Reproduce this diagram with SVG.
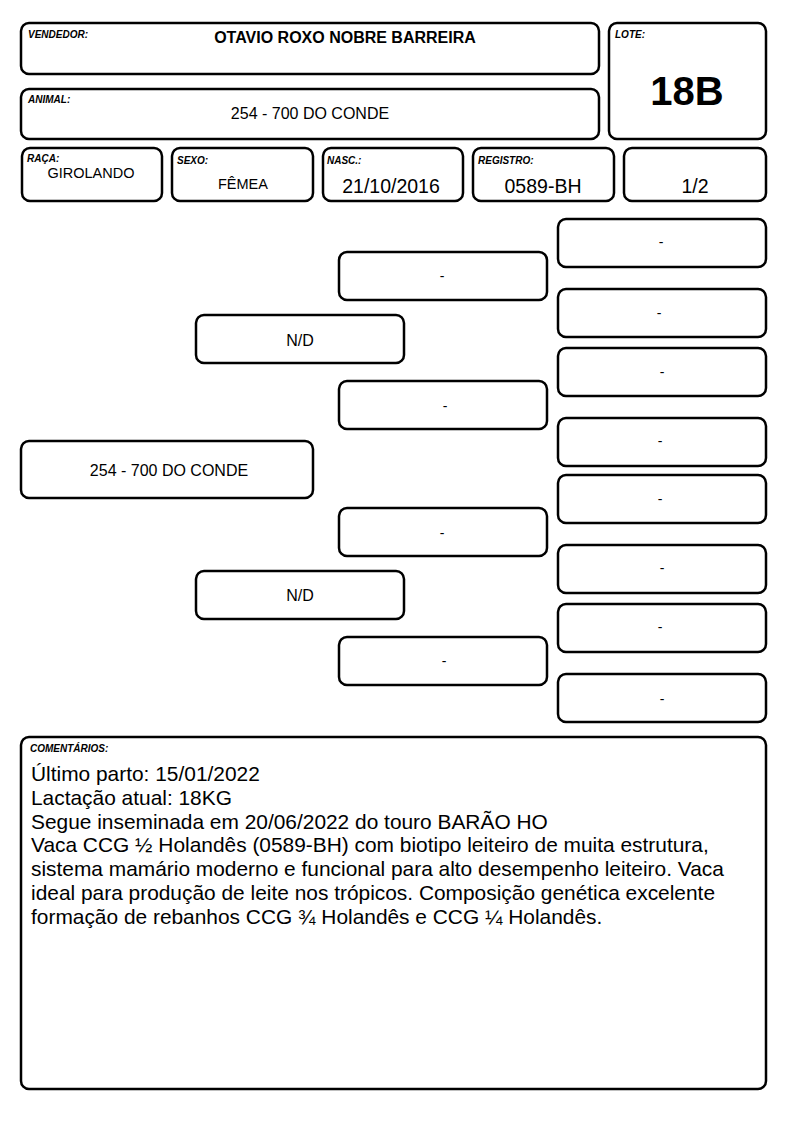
<svg xmlns="http://www.w3.org/2000/svg" width="794" height="1123" viewBox="0 0 794 1123">
<style>
.b{fill:#fff;stroke:#000;stroke-width:2.5}
.lbl{font-family:"Liberation Sans",Arial,sans-serif;font-size:10px;font-weight:bold;font-style:italic;fill:#000}
.t{font-family:"Liberation Sans",Arial,sans-serif;fill:#000;text-anchor:middle}
.c{font-family:"Liberation Sans",Arial,sans-serif;font-size:20.9px;fill:#000}
</style>
<rect width="794" height="1123" fill="#fff"/>
<g id="vendedor"><rect class="b" x="21" y="23" width="578" height="51" rx="8"/><text class="lbl" x="28" y="38">VENDEDOR:</text><text class="t" x="345" y="43" font-size="16" font-weight="bold">OTAVIO ROXO NOBRE BARREIRA</text></g>
<g id="animal"><rect class="b" x="21" y="89" width="578" height="50" rx="8"/><text class="lbl" x="28" y="103">ANIMAL:</text><text class="t" x="310" y="119" font-size="16">254 - 700 DO CONDE</text></g>
<g id="lote"><rect class="b" x="609" y="23" width="157" height="116" rx="8"/><text class="lbl" x="615" y="38">LOTE:</text><text class="t" x="687" y="105" font-size="40" font-weight="bold">18B</text></g>
<g id="raca"><rect class="b" x="22" y="148" width="140" height="53" rx="8"/><text class="lbl" x="27" y="162">RAÇA:</text><text class="t" x="91" y="178" font-size="14.5">GIROLANDO</text></g>
<g id="sexo"><rect class="b" x="172" y="148" width="141" height="53" rx="8"/><text class="lbl" x="177" y="164">SEXO:</text><text class="t" x="243" y="189" font-size="14.5">FÊMEA</text></g>
<g id="nasc"><rect class="b" x="323" y="148" width="140" height="53" rx="8"/><text class="lbl" x="327" y="164">NASC.:</text><text class="t" x="391" y="193" font-size="19.5">21/10/2016</text></g>
<g id="registro"><rect class="b" x="473" y="148" width="141" height="53" rx="8"/><text class="lbl" x="478" y="164">REGISTRO:</text><text class="t" x="543" y="193" font-size="19.5">0589-BH</text></g>
<g id="fracao"><rect class="b" x="624" y="148" width="142" height="53" rx="8"/><text class="t" x="695" y="193" font-size="19.5">1/2</text></g>

<g id="p1"><rect class="b" x="21" y="441" width="292" height="57" rx="8"/><text class="t" x="169" y="476" font-size="16">254 - 700 DO CONDE</text></g>
<g id="p2a"><rect class="b" x="196" y="315" width="208" height="48" rx="8"/><text class="t" x="300" y="346" font-size="16">N/D</text></g>
<g id="p2b"><rect class="b" x="196" y="571" width="208" height="48" rx="8"/><text class="t" x="300" y="601" font-size="16">N/D</text></g>
<g id="p3a"><rect class="b" x="339" y="252" width="208" height="48" rx="8"/><text class="t" x="442" y="281" font-size="14">-</text></g>
<g id="p3b"><rect class="b" x="339" y="381" width="208" height="48" rx="8"/><text class="t" x="445" y="411" font-size="14">-</text></g>
<g id="p3c"><rect class="b" x="339" y="508" width="208" height="48" rx="8"/><text class="t" x="442" y="538" font-size="14">-</text></g>
<g id="p3d"><rect class="b" x="339" y="637" width="208" height="48" rx="8"/><text class="t" x="444" y="666" font-size="14">-</text></g>
<g id="p4a"><rect class="b" x="558" y="219" width="208" height="48" rx="8"/><text class="t" x="661" y="247" font-size="14">-</text></g>
<g id="p4b"><rect class="b" x="558" y="289" width="208" height="48" rx="8"/><text class="t" x="659" y="318" font-size="14">-</text></g>
<g id="p4c"><rect class="b" x="558" y="348" width="208" height="48" rx="8"/><text class="t" x="662" y="377" font-size="14">-</text></g>
<g id="p4d"><rect class="b" x="558" y="418" width="208" height="48" rx="8"/><text class="t" x="660" y="446" font-size="14">-</text></g>
<g id="p4e"><rect class="b" x="558" y="475" width="208" height="48" rx="8"/><text class="t" x="660" y="504" font-size="14">-</text></g>
<g id="p4f"><rect class="b" x="558" y="545" width="208" height="48" rx="8"/><text class="t" x="662" y="573" font-size="14">-</text></g>
<g id="p4g"><rect class="b" x="558" y="604" width="208" height="48" rx="8"/><text class="t" x="660" y="632" font-size="14">-</text></g>
<g id="p4h"><rect class="b" x="558" y="674" width="208" height="48" rx="8"/><text class="t" x="662" y="704" font-size="14">-</text></g>
<g id="connectors"></g>

<g id="comentarios"><rect class="b" x="21" y="737" width="745" height="352" rx="8"/><text class="lbl" x="30" y="752">COMENTÁRIOS:</text>
<text class="c" x="31" y="781">Último parto: 15/01/2022</text>
<text class="c" x="31" y="805">Lactação atual: 18KG</text>
<text class="c" x="31" y="829">Segue inseminada em 20/06/2022 do touro BARÃO HO</text>
<text class="c" x="31" y="852">Vaca CCG ½ Holandês (0589-BH) com biotipo leiteiro de muita estrutura,</text>
<text class="c" x="31" y="876">sistema mamário moderno e funcional para alto desempenho leiteiro. Vaca</text>
<text class="c" x="31" y="900">ideal para produção de leite nos trópicos. Composição genética excelente</text>
<text class="c" x="31" y="924">formação de rebanhos CCG ¾ Holandês e CCG ¼ Holandês.</text>
</g>
</svg>
